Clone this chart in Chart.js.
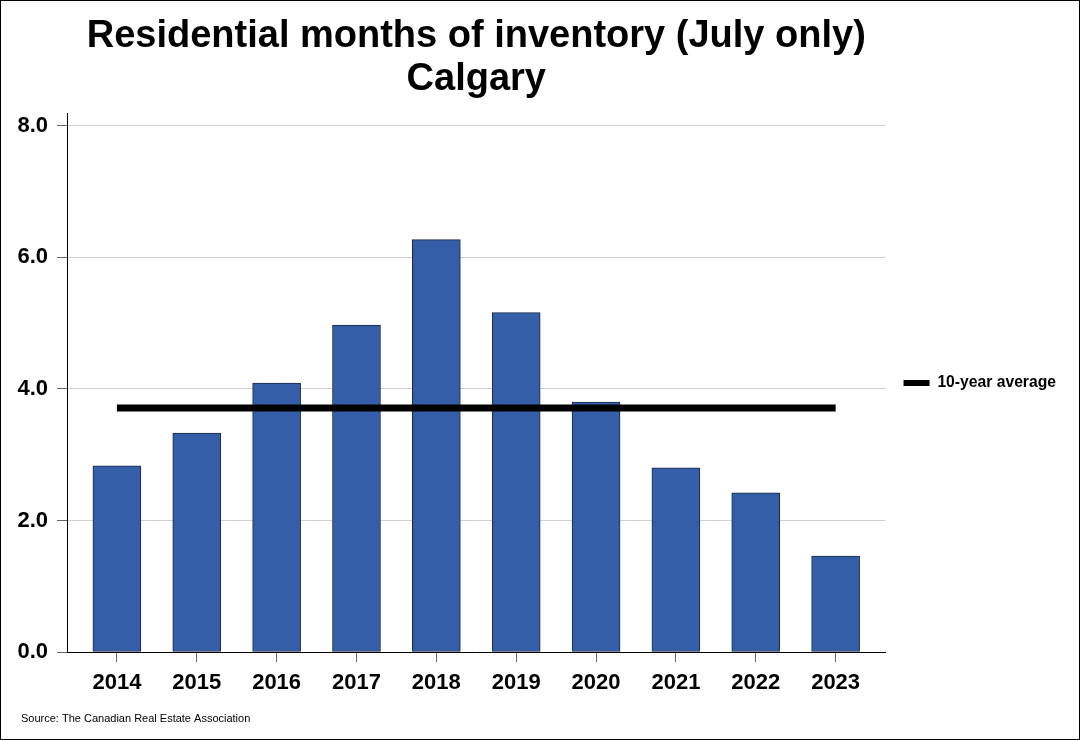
<!DOCTYPE html>
<html>
<head>
<meta charset="utf-8">
<script src="https://cdn.jsdelivr.net/npm/chart.js@4.4.0/dist/chart.umd.min.js"></script>
<style>
  html, body { margin: 0; padding: 0; background: #fff; }
  #frame { width: 1080px; height: 740px; box-sizing: border-box; border: 1px solid #000; }
  canvas { display: block; }
</style>
</head>
<body>
<div id="frame"><canvas id="chart" width="1078" height="738"></canvas></div>
<script>
// data
const years = ['2014', '2015', '2016', '2017', '2018', '2019', '2020', '2021', '2022', '2023'];
const inventory = [2.83, 3.33, 4.09, 4.97, 6.27, 5.16, 3.80, 2.80, 2.42, 1.46];
const tenYearAvg = 3.71;
const yTicks = [0, 2, 4, 6, 8];

const FONT = '"Liberation Sans", Arial, sans-serif';

// source note at the bottom left
const sourceNote = {
    id: 'sourceNote',
    afterDraw(chart) {
        const c = chart.ctx;
        c.save();
        c.font = '11px ' + FONT;
        c.fillStyle = '#000';
        c.textAlign = 'left';
        c.textBaseline = 'alphabetic';
        c.fillText('Source: The Canadian Real Estate Association', 20, 721);
        c.restore();
    }
};

const ctx = document.getElementById('chart').getContext('2d');
const chart = new Chart(ctx, {
    type: 'bar',
    data: {
        datasets: [{
            type: 'line',
            label: '10-year average',
            data: years.map((y, i) => ({ x: i, y: tenYearAvg })),
            borderColor: '#000',
            backgroundColor: '#000',
            borderWidth: 7,
            borderCapStyle: 'butt',
            pointRadius: 0,
            order: 0,
        }, {
            label: 'Months of inventory',
            data: inventory.map((v, i) => ({ x: i, y: v })),
            backgroundColor: '#345EA8',
            borderColor: '#1B2844',
            borderWidth: 1,
            borderSkipped: false,
            barThickness: 48,
            order: 1,
        }],
    },
    options: {
        responsive: false,
        animation: false,
        devicePixelRatio: 1,
        layout: { padding: { left: 0, right: 13, top: 0, bottom: 47 } },
        plugins: {
            title: {
                display: true,
                text: ['Residential months of inventory (July only)', 'Calgary'],
                fullSize: false,
                color: '#000',
                font: { family: FONT, size: 38, weight: 'bold', lineHeight: 1.13 },
                padding: { top: 14.5, bottom: 12.6 },
            },
            legend: {
                position: 'right',
                fullSize: false,
                labels: {
                    color: '#000',
                    font: { family: FONT, size: 15.7, weight: 'bold' },
                    boxWidth: 26,
                    boxHeight: 6,
                    padding: 18,
                    generateLabels: chart => [{
                        text: '10-year average',
                        fillStyle: '#000',
                        strokeStyle: '#000',
                        lineWidth: 0,
                        datasetIndex: 0,
                    }],
                },
            },
            tooltip: { enabled: false },
        },
        scales: {
            x: {
                type: 'linear',
                offset: false,
                min: -0.625,
                max: 9.625,
                afterBuildTicks: s => { s.ticks = years.map((y, i) => ({ value: i })); },
                afterFit: s => { s.height = 40; },
                ticks: {
                    callback: v => years[v],
                    color: '#000',
                    font: { family: FONT, size: 22, weight: 'bold' },
                    padding: 8,
                    maxRotation: 0,
                    autoSkip: false,
                },
                grid: { offset: false, drawOnChartArea: false, tickLength: 10, tickColor: '#666' },
                border: { color: '#000', width: 1 },
            },
            y: {
                min: 0,
                max: 8.18,
                afterBuildTicks: s => { s.ticks = yTicks.map(v => ({ value: v })); },
                afterFit: s => { s.width = 66; },
                ticks: {
                    callback: v => v.toFixed(1),
                    color: '#000',
                    font: { family: FONT, size: 22, weight: 'bold' },
                    padding: 9,
                },
                grid: {
                    color: c => (c.tick && c.tick.value === 0) ? 'rgba(0,0,0,0)' : '#CFCFCF',
                    tickColor: '#666',
                    tickLength: 10,
                },
                border: { color: '#000', width: 1 },
            },
        },
    },
    plugins: [sourceNote],
});
</script>
</body>
</html>
